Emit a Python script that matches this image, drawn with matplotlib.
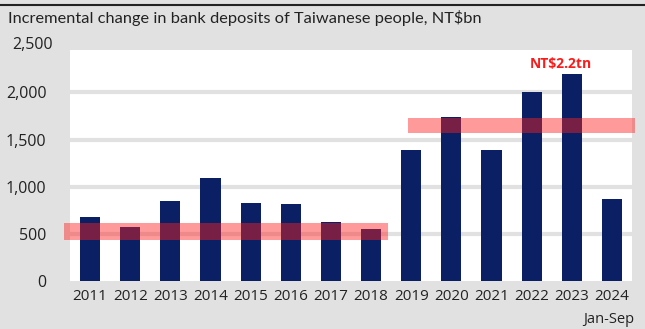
import numpy as np
import matplotlib
matplotlib.use("Agg")
import matplotlib.pyplot as plt
from matplotlib.transforms import offset_copy

# ============================================================
# DATA
# ============================================================
years = ["2011", "2012", "2013", "2014", "2015", "2016", "2017",
         "2018", "2019", "2020", "2021", "2022", "2023", "2024"]
deposits = [680, 570, 850, 1090, 825, 820, 625,
            555, 1385, 1740, 1390, 2005, 2195, 865]
y_ticks = [0, 500, 1000, 1500, 2000, 2500]

# highlight bands: (x start, x end, y low, y high) in data units
band_early = (-0.65, 7.42, 435, 610)
band_late = (7.92, 13.57, 1570, 1730)

title = "Incremental change in bank deposits of Taiwanese people, NT$bn"
note = "NT$2.2tn"

# ============================================================
# STYLE
# ============================================================
bg = "#e1e1e1"
navy = "#0b1f65"
plt.rcParams["font.family"] = ["Open Sans", "DejaVu Sans"]

fig = plt.figure(figsize=(6.45, 3.29), dpi=100, facecolor=bg)
ax = fig.add_axes([70 / 645, 1 - 281 / 329, 562 / 645, 231 / 329])
ax.set_facecolor("white")

x = np.arange(len(years))
ax.bar(x, deposits, width=0.5, color=navy, zorder=2)

for y in y_ticks[1:-1]:
    ax.axhline(y, color=bg, lw=3, zorder=1)

for x0, x1, y0, y1 in (band_early, band_late):
    ax.fill_between([x0, x1], y0, y1, color="#ff2020", alpha=0.45,
                    lw=0, zorder=3, clip_on=False)

ax.text(11.73, 2300, note, color="#ff1a1a", fontsize=10, fontweight="bold",
        ha="center", va="center")

ax.set_xlim(-0.5, 13.5)
ax.set_ylim(0, 2450)
ax.set_xticks(x)
ax.set_xticklabels(years)
ax.set_yticks(y_ticks[:-1])
ax.set_yticklabels([f"{v:,}" for v in y_ticks[:-1]])
ax.tick_params(length=0, labelsize=11, labelcolor="#222222")
ax.tick_params(axis="y", labelsize=11.5, pad=17)
ax.tick_params(axis="x", pad=6)
for s in ax.spines.values():
    s.set_visible(False)

# top tick label sits just above the plot area
lbl_tr = offset_copy(ax.transData, fig=fig, x=-17 * 72 / 100, y=0,
                     units="points")
ax.text(-0.5, 2500, "2,500", transform=lbl_tr, ha="right", va="center",
        fontsize=11.5, color="#222222", clip_on=False)

ax.text(13.55, -330, "Jan-Sep", ha="right", va="top", fontsize=10.5,
        color="#222222")

# header
fig.add_artist(plt.Line2D([0, 1], [1 - 5 / 329, 1 - 5 / 329],
                          color="#222222", lw=1.5))
fig.text(8 / 645, 1 - 18 / 329, title, ha="left", va="center",
         fontsize=11.8, color="#222222", family="Lato")

fig.savefig("out.png", dpi=100, facecolor=bg)
